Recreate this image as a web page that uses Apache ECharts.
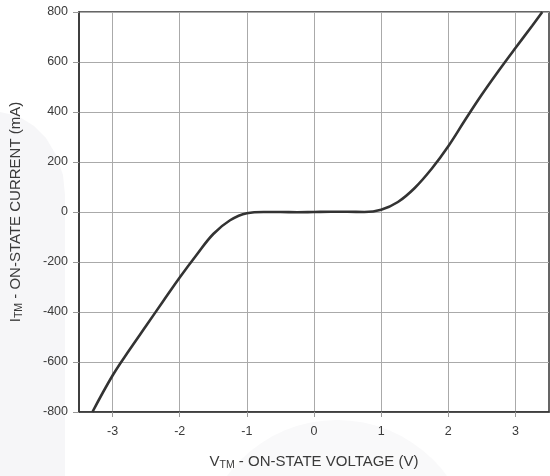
<!DOCTYPE html>
<html>
<head>
<meta charset="utf-8">
<script src="https://cdn.jsdelivr.net/npm/echarts@6/dist/echarts.min.js"></script>
<style>
html,body{margin:0;padding:0;background:#fff;}
#chart{width:550px;height:476px;}
</style>
</head>
<body>
<div id="chart"></div>
<script>
// On-state voltage (V) and on-state current (mA)
const voltage = [-3.3, -3.0, -2.75, -2.5, -2.25, -2.0, -1.75, -1.5, -1.25, -1.0, -0.75, -0.5, -0.25, 0, 0.25, 0.5, 0.75, 1.0, 1.25, 1.5, 1.75, 2.0, 2.25, 2.5, 2.75, 3.0, 3.25, 3.4];
const current = [-800, -654, -552, -455, -358, -262, -172, -88, -33, -5, 0, 0, -1, 0, 1, 1, 0, 9, 40, 96, 172, 263, 368, 470, 565, 656, 745, 800];
const xTickLabels = [-3, -2, -1, 0, 1, 2, 3];
const yTickLabels = [-800, -600, -400, -200, 0, 200, 400, 600, 800];

const textColor = '#3a3a3a';
const font = 'Liberation Sans, Arial, Helvetica, sans-serif';

const chart = echarts.init(document.getElementById('chart'), null, {renderer: 'canvas'});
chart.setOption({
  backgroundColor: '#ffffff',
  animation: false,
  graphic: [
    {
      type: 'polygon', z: -10, silent: true,
      shape: {points: [[0,112],[18,116],[34,126],[46,138],[56,155],[63,175],[65,195],[65,476],[0,476]]},
      style: {fill: '#f6f6f8'}
    },
    {
      type: 'circle', z: -10, silent: true,
      shape: {cx: 337, cy: 556, r: 136},
      style: {fill: '#f9f9fa'}
    }
  ],
  grid: {
    left: 79, right: 1, top: 12, bottom: 61,
    show: true, backgroundColor: '#ffffff', borderColor: '#333', borderWidth: 1.5
  },
  xAxis: {
    type: 'value', min: -3.5, max: 3.5, interval: 0.5,
    name: '{a|V}{s|TM}{a| - ON-STATE VOLTAGE (V)}',
    nameLocation: 'middle', nameGap: 40,
    nameTextStyle: {
      rich: {
        a: {fontSize: 15, fontFamily: font, color: textColor},
        s: {fontSize: 10.5, fontFamily: font, color: textColor, padding: [8, 0, 0, 0]}
      }
    },
    axisLine: {show: true, onZero: false, lineStyle: {color: '#333', width: 1.5}},
    axisTick: {show: true, length: 5, customValues: xTickLabels, lineStyle: {color: '#999'}},
    axisLabel: {customValues: xTickLabels, margin: 13, fontSize: 12.5, fontFamily: font, color: textColor},
    splitLine: {show: true, lineStyle: {color: '#aaa', width: 1}}
  },
  yAxis: {
    type: 'value', min: -800, max: 800, interval: 200,
    name: '{a|I}{s|TM}{a| - ON-STATE CURRENT (mA)}',
    nameLocation: 'middle', nameGap: 54,
    nameTextStyle: {
      rich: {
        a: {fontSize: 15, fontFamily: font, color: textColor},
        s: {fontSize: 10.5, fontFamily: font, color: textColor, padding: [8, 0, 0, 0]}
      }
    },
    axisLine: {show: true, onZero: false, lineStyle: {color: '#333', width: 1.5}},
    axisTick: {show: true, length: 6, customValues: yTickLabels, lineStyle: {color: '#999'}},
    axisLabel: {customValues: yTickLabels, margin: 11, fontSize: 12.5, fontFamily: font, color: textColor},
    splitLine: {show: true, lineStyle: {color: '#aaa', width: 1}}
  },
  series: [{
    type: 'line',
    data: voltage.map((v, i) => [v, current[i]]),
    smooth: 0.4,
    showSymbol: false,
    clip: true,
    lineStyle: {color: '#333', width: 2.6}
  }]
});
</script>
</body>
</html>
